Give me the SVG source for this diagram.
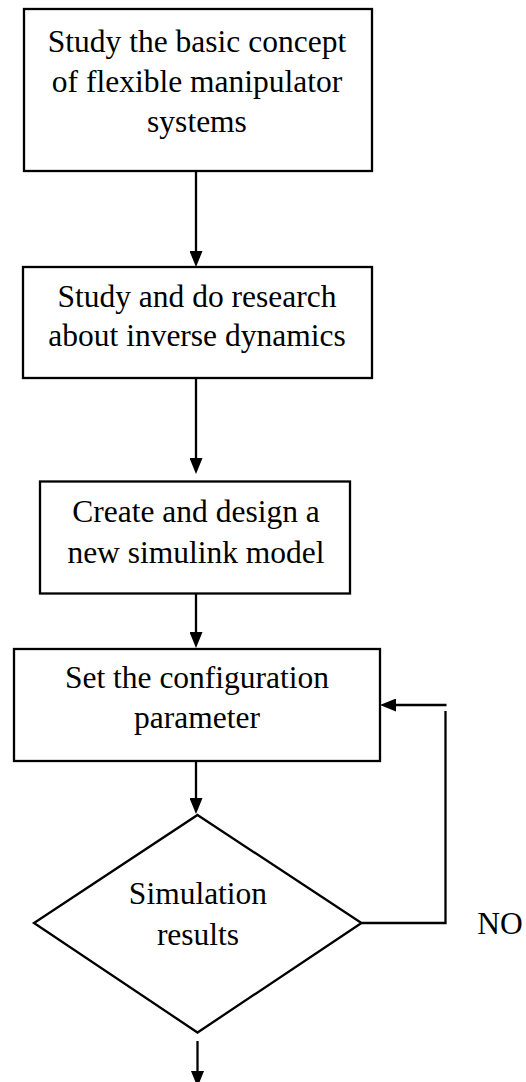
<svg xmlns="http://www.w3.org/2000/svg" width="526" height="1082" viewBox="0 0 526 1082">
<style>
.box{fill:#fff;stroke:#000;stroke-width:2.3}
.t{font-family:"Liberation Serif","Times New Roman",serif;font-size:31.5px;fill:#000;text-anchor:middle}
.c{fill:none;stroke:#000;stroke-width:2.3}
</style>
<defs>
<marker id="ah" viewBox="0 0 16 13" markerUnits="userSpaceOnUse" markerWidth="16" markerHeight="13" refX="8" refY="6.5" orient="auto">
<path d="M0,0 L16,6.5 L0,13 z" fill="#000"/>
</marker>
</defs>
<rect width="526" height="1082" fill="#fff"/>
<g id="n1">
<rect class="box" x="24" y="9" width="348" height="162"/>
<text class="t" x="197" y="52">Study the basic concept</text>
<text class="t" x="197" y="92">of flexible manipulator</text>
<text class="t" x="197" y="132">systems</text>
</g>
<g id="n2">
<rect class="box" x="23" y="267" width="349" height="111"/>
<text class="t" x="197" y="307">Study and do research</text>
<text class="t" x="197" y="346">about inverse dynamics</text>
</g>
<g id="n3">
<rect class="box" x="40" y="481.5" width="310" height="112"/>
<text class="t" x="196" y="522">Create and design a</text>
<text class="t" x="196" y="563">new simulink model</text>
</g>
<g id="n4">
<rect class="box" x="14" y="649" width="366" height="112"/>
<text class="t" x="197" y="688">Set the configuration</text>
<text class="t" x="197" y="728">parameter</text>
</g>
<g id="n5">
<polygon class="box" points="197.5,815 361.5,923 197.5,1032.5 34,923"/>
<text class="t" x="198" y="904">Simulation</text>
<text class="t" x="198" y="945">results</text>
</g>
<g id="label-no">
<text class="t" x="500" y="934">NO</text>
</g>
<g id="connectors">
<line class="c" x1="196" y1="171" x2="196" y2="259" marker-end="url(#ah)"/>
<line class="c" x1="196" y1="378" x2="196" y2="466" marker-end="url(#ah)"/>
<line class="c" x1="196" y1="593.5" x2="196" y2="640" marker-end="url(#ah)"/>
<line class="c" x1="196" y1="761" x2="196" y2="806" marker-end="url(#ah)"/>
<polyline class="c" points="361.5,923 445.5,923 445.5,711"/>
<line class="c" x1="446.5" y1="705" x2="388" y2="705" marker-end="url(#ah)"/>
<line class="c" x1="197.5" y1="1041" x2="197.5" y2="1079" marker-end="url(#ah)"/>
</g>
</svg>
